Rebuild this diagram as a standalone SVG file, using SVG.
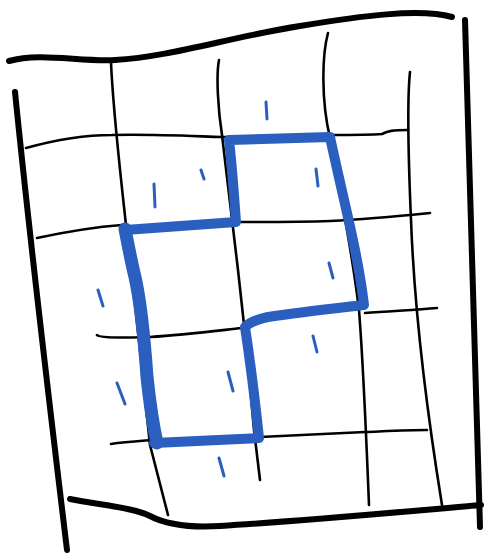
<svg xmlns="http://www.w3.org/2000/svg" width="484" height="554" viewBox="0 0 484 554">
<style>
.b{fill:none;stroke:#000;stroke-linecap:round;stroke-linejoin:round}
.border{stroke-width:6}
.grid{stroke-width:2.6}
.blue{fill:none;stroke:#2a5fc0;stroke-linecap:round;stroke-linejoin:round}
.tick{stroke-width:3}
</style>
<rect width="484" height="554" fill="#fff"/>
<g id="grid">
<path class="b grid" d="M111,62 C113,110 120,170 126,225 C135,300 143,380 150,445 L168,515"/>
<path class="b grid" d="M219,60 C216,75 218,110 222,135 C226,170 232,220 238,270 C244,320 250,380 254,430 L260,480"/>
<path class="b grid" d="M328,33 C322,55 321,100 330,138 C340,190 352,250 359,310 C363,360 366,430 369,505"/>
<path class="b grid" d="M410,72 C407,100 408,150 411,220 C414,300 425,400 442,505"/>
<path class="b grid" d="M26,148 C55,140 85,135 112,135 C150,134 190,136 222,137 C260,137 300,136 330,135 C350,135 370,135 382,134 C388,131 392,130 408,130"/>
<path class="b grid" d="M37,238 C65,232 95,227 122,225 M238,222 C270,222 300,222 330,221 C370,219 400,216 430,213"/>
<path class="b grid" d="M97,335 C99,338 120,338 150,337 C185,335 215,331 242,328 M365,313 C390,311 415,310 437,308"/>
<path class="b grid" d="M111,444 C125,442 140,441 152,440 M260,437 C300,435 340,433 365,432 C390,431 410,430 427,430"/>
</g>
<g id="frame">
<path class="b border" d="M9,61 C40,52 80,62 115,60 C170,57 230,37 300,26 C360,16 420,8 452,17"/>
<path class="b border" d="M465,20 L480,527"/>
<path class="b border" d="M15,92 Q32,260 67,550"/>
<path class="b border" stroke-width="5" d="M70,499 C100,505 135,508 150,516 C165,524 185,528 220,526 C300,521 400,512 481,505"/>
</g>
<g id="shape">
<path class="blue" stroke-width="10" d="M229,140 L330,137 C338,175 348,215 355,250 C359,270 362,288 364,305 C330,309 295,313 268,317 C258,319 250,322 245,327 C250,360 255,400 259,438 L154,443 M125,230 L236,222 C234,195 232,165 229,140"/>
<path class="blue" stroke-width="13" d="M125,229 C129,250 132,265 135,277 C139,295 143,320 147,377 C150,405 153,425 157,443"/>
</g>
<g id="ticks">
<path class="blue tick" d="M266,102 L267,119 M201,170 L204,179 M154,184 L155,207 M316,169 L318,186 M329,263 L333,278 M98,290 L103,306 M117,383 L125,404 M228,372 L233,391 M313,336 L317,352 M219,458 L224,476"/>
</g>
</svg>
